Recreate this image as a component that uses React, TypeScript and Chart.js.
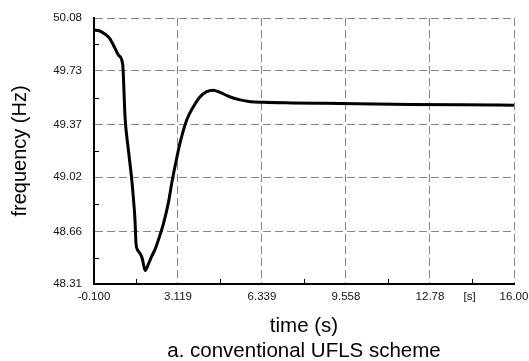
import React, { useEffect, useRef } from 'react';
import { Chart, registerables } from 'chart.js';

Chart.register(...registerables);

// ---- data ----
const timeS = [
  -0.1, 0.1, 0.3, 0.5, 0.7, 0.85, 1.0, 1.09, 1.22, 1.35, 1.42, 1.47, 1.51, 1.56,
  1.64, 1.75, 1.86, 1.98, 2.1, 2.24, 2.4, 2.56, 2.75, 2.9, 3.05, 3.2, 3.45, 3.71,
  3.96, 4.22, 4.47, 4.73, 5.1, 5.5, 5.9, 6.4, 7.5, 8.7, 10.0, 12.0, 14.0, 16.0,
];
const freqHz = [
  50.0, 49.995, 49.975, 49.945, 49.88, 49.83, 49.77, 49.42, 49.2, 49.0, 48.86,
  48.74, 48.58, 48.54, 48.52, 48.48, 48.4, 48.44, 48.49, 48.54, 48.62, 48.71,
  48.85, 49.0, 49.13, 49.25, 49.4, 49.49, 49.555, 49.59, 49.6, 49.585, 49.556,
  49.535, 49.523, 49.519, 49.515, 49.512, 49.509, 49.505, 49.502, 49.5,
];

const xTickValues = [-0.1, 3.119, 6.339, 9.558, 12.78, 16.0];
const xTickLabels = ['-0.100', '3.119', '6.339', '9.558', '12.78', '16.00'];
const yTickValues = [48.31, 48.66, 49.02, 49.37, 49.73, 50.08];
const yTickLabels = ['48.31', '48.66', '49.02', '49.37', '49.73', '50.08'];

const xUnitLabel = '[s]';
const xUnitAt = 14.3;
const xTitle = 'time (s)';
const yTitle = 'frequency (Hz)';
const caption = 'a. conventional UFLS scheme';

const FONT = '"Liberation Sans", Arial, Helvetica, sans-serif';

const decorPlugin = {
  id: 'decor',
  afterDraw(chart: any) {
    const ctx = chart.ctx as CanvasRenderingContext2D;
    const ca = chart.chartArea;
    const xs = chart.scales.x;
    const ys = chart.scales.y;
    ctx.save();
    // minor ticks (inside the axes)
    ctx.strokeStyle = '#000';
    ctx.lineWidth = 1;
    ctx.beginPath();
    for (let i = 0; i < yTickValues.length - 1; i++) {
      const py = Math.round(ys.getPixelForValue((yTickValues[i] + yTickValues[i + 1]) / 2)) + 0.5;
      ctx.moveTo(ca.left, py);
      ctx.lineTo(ca.left + 5, py);
    }
    for (let i = 0; i < xTickValues.length - 1; i++) {
      const px = Math.round(xs.getPixelForValue((xTickValues[i] + xTickValues[i + 1]) / 2)) + 0.5;
      ctx.moveTo(px, ca.bottom);
      ctx.lineTo(px, ca.bottom - 5);
    }
    ctx.stroke();

    ctx.fillStyle = '#111';
    // unit label in tick row
    ctx.font = `11.5px ${FONT}`;
    ctx.textAlign = 'center';
    ctx.textBaseline = 'middle';
    ctx.fillText(xUnitLabel, xs.getPixelForValue(xUnitAt), ca.bottom + 13);

    // titles
    ctx.fillStyle = '#000';
    ctx.font = `20.5px ${FONT}`;
    ctx.textBaseline = 'alphabetic';
    const cx = (ca.left + ca.right) / 2;
    ctx.fillText(xTitle, cx, ca.bottom + 48);
    ctx.fillText(caption, cx, ca.bottom + 73);

    ctx.translate(26, (ca.top + ca.bottom) / 2);
    ctx.rotate(-Math.PI / 2);
    ctx.font = `20px ${FONT}`;
    ctx.fillText(yTitle, 0, 0);
    ctx.restore();
  },
};

export default function App() {
  const canvasRef = useRef<HTMLCanvasElement | null>(null);

  useEffect(() => {
    const canvas = canvasRef.current;
    if (!canvas) return;
    const points = timeS.map((t, i) => ({ x: t, y: freqHz[i] }));
    const gridCommon = {
      color: '#858585',
      lineWidth: 1,
      drawTicks: false,
    };
    const chart = new Chart(canvas, {
      type: 'line',
      data: {
        datasets: [
          {
            data: points,
            borderColor: '#000',
            borderWidth: 3,
            pointRadius: 0,
            fill: false,
            cubicInterpolationMode: 'monotone',
          },
        ],
      },
      options: {
        animation: false,
        responsive: false,
        devicePixelRatio: 1,
        layout: { padding: { top: 18, right: 15, left: 0, bottom: 0 } },
        plugins: {
          legend: { display: false },
          tooltip: { enabled: false },
          title: { display: false },
        },
        scales: {
          x: {
            type: 'linear',
            min: -0.1,
            max: 16,
            afterBuildTicks: (scale: any) => {
              scale.ticks = xTickValues.map((v) => ({ value: v }));
            },
            afterFit: (scale: any) => {
              scale.height = 77;
              scale.paddingLeft = 0;
              scale.paddingRight = 0;
            },
            ticks: {
              autoSkip: false,
              maxRotation: 0,
              minRotation: 0,
              padding: 6,
              color: '#111',
              font: { family: FONT, size: 11.5 },
              callback: (_v: any, i: number) => xTickLabels[i],
            },
            grid: gridCommon,
            border: { display: true, color: '#000', width: 2, dash: [8, 4] },
          },
          y: {
            type: 'linear',
            min: 48.31,
            max: 50.08,
            afterBuildTicks: (scale: any) => {
              scale.ticks = yTickValues.map((v) => ({ value: v }));
            },
            afterFit: (scale: any) => {
              scale.width = 94;
              scale.paddingTop = 0;
              scale.paddingBottom = 0;
            },
            ticks: {
              autoSkip: false,
              padding: 12,
              color: '#111',
              font: { family: FONT, size: 11.5 },
              callback: (_v: any, i: number) => yTickLabels[i],
            },
            grid: gridCommon,
            border: { display: true, color: '#000', width: 2, dash: [8, 4] },
          },
        },
      },
      plugins: [decorPlugin],
    } as any);
    return () => chart.destroy();
  }, []);

  return (
    <div style={{ position: 'absolute', left: 0, top: 0, width: 529, height: 361, background: '#fff' }}>
      <canvas ref={canvasRef} width={529} height={361} style={{ display: 'block' }} />
    </div>
  );
}
